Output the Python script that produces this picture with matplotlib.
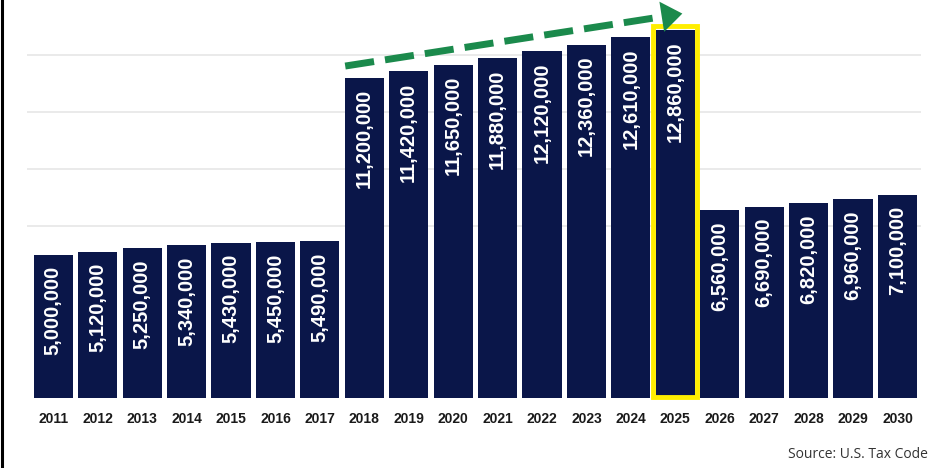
import matplotlib
matplotlib.use("Agg")
import matplotlib.pyplot as plt
from matplotlib.patches import Rectangle
from matplotlib.lines import Line2D
import numpy as np

years = [str(y) for y in range(2011, 2031)]
values = [5000000, 5120000, 5250000, 5340000, 5430000, 5450000, 5490000,
          11200000, 11420000, 11650000, 11880000, 12120000, 12360000, 12610000,
          12860000, 6560000, 6690000, 6820000, 6960000, 7100000]
grid_levels = [6000000, 8000000, 10000000, 12000000]
highlight_year = "2025"
arrow_from_year = "2018"
arrow_to_year = "2025"
source_text = "Source: U.S. Tax Code"

W, H = 932, 468
fig = plt.figure(figsize=(W / 100, H / 100), dpi=100)
fig.patch.set_facecolor("white")
ax = fig.add_axes([27 / W, 70 / H, (921 - 27) / W, 398 / H])

navy = "#0a1649"
x = np.arange(len(years))
ax.bar(x, values, width=0.88, color=navy, zorder=2)

ax.set_xlim(-0.592, 19.53)
ax.set_ylim(0, 13.92e6)
ax.set_yticks(grid_levels)
ax.yaxis.grid(True, color="#e6e6e6", lw=1.2, zorder=0)
ax.tick_params(axis="y", length=0, labelleft=False)
for s in ax.spines.values():
    s.set_visible(False)

ax.set_xticks(x)
ax.set_xticklabels(years, fontfamily=["Liberation Sans", "DejaVu Sans"],
                   fontweight="bold", fontsize=10, color="#1a1a1a")
ax.tick_params(axis="x", length=0, pad=10)

for xi, v in zip(x, values):
    ax.annotate(f"{v:,}", xy=(xi, v), xytext=(0, -8), textcoords="offset points",
                rotation=90, ha="center", va="top", color="white",
                fontfamily=["Liberation Sans", "DejaVu Sans"], fontweight="bold",
                fontsize=14.5, zorder=3)

# highlight box
hi = years.index(highlight_year)
ax.add_patch(Rectangle((hi - 0.495, 0.03e6), 0.99, values[hi] + 0.11e6,
                       fill=False, edgecolor="#ffee00", lw=3.5, zorder=4,
                       clip_on=False))

# dashed green trend arrow
green = "#1b8a4c"
i0 = years.index(arrow_from_year)
i1 = years.index(arrow_to_year)
x0, y0 = i0 - 0.43, values[i0] + 0.41e6
xt, yt = i1 + 0.22, values[i1] + 0.60e6
frac = 0.965
xb, yb = x0 + (xt - x0) * frac, y0 + (yt - y0) * frac
ax.plot([x0, xb], [y0, yb], color=green, lw=5, ls=(0, (4.2, 1.6)),
        solid_capstyle="butt", dash_capstyle="butt", zorder=5, clip_on=False)
ax.annotate("", xy=(xt, yt), xytext=(xb - (xt - x0) * 0.01, yb - (yt - y0) * 0.01),
            arrowprops=dict(arrowstyle="-|>,head_length=0.75,head_width=0.55",
                            color=green, lw=0, mutation_scale=20),
            zorder=5, annotation_clip=False)

fig.text(928 / W, 1 - 454 / H, source_text, ha="right", va="center",
         fontsize=10, color="#333333",
         fontfamily=["Open Sans", "DejaVu Sans"])

fig.add_artist(Line2D([1.5 / W, 1.5 / W], [0, 1], color="black", lw=2.2,
                      transform=fig.transFigure))

fig.savefig("out.png", dpi=100, facecolor="white")
